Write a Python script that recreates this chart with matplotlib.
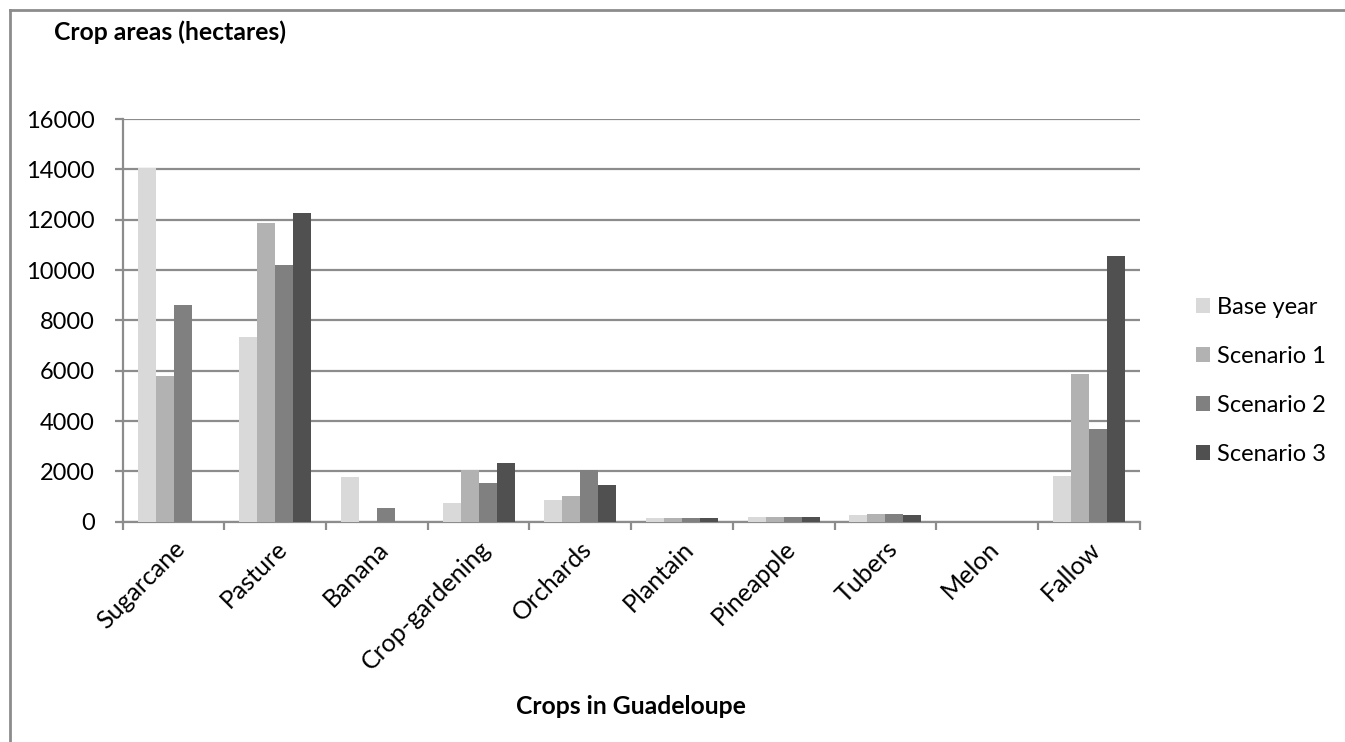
import matplotlib
matplotlib.use("Agg")
import matplotlib.pyplot as plt
from matplotlib.lines import Line2D
from matplotlib.patches import Patch
import numpy as np

plt.rcParams['font.family'] = ['Lato', 'DejaVu Sans']

crops = ["Sugarcane", "Pasture", "Banana", "Crop-gardening", "Orchards",
         "Plantain", "Pineapple", "Tubers", "Melon", "Fallow"]
series_names = ["Base year", "Scenario 1", "Scenario 2", "Scenario 3"]
base_year = [14050, 7350, 1760, 750, 880, 150, 180, 260, 0, 1830]
scenario_1 = [5800, 11850, 0, 2070, 1010, 150, 180, 290, 0, 5870]
scenario_2 = [8610, 10190, 560, 1530, 2050, 150, 180, 300, 0, 3670]
scenario_3 = [0, 12280, 0, 2330, 1470, 130, 180, 270, 0, 10540]
y_ticks = [0, 2000, 4000, 6000, 8000, 10000, 12000, 14000, 16000]

colors = ["#d9d9d9", "#b2b2b2", "#808080", "#505050"]
grid_gray = "#8c8c8c"
fs = 17
fs_cat = 18
fs_bold = 17.8

fig = plt.figure(figsize=(13.45, 7.42), dpi=100)
ax = fig.add_axes([0.0912, 0.2969, 0.7562, 0.5427])

x = np.arange(len(crops))
bar_w = 0.177
all_series = [base_year, scenario_1, scenario_2, scenario_3]
for i, (vals, c) in enumerate(zip(all_series, colors)):
    offs = (i - 1.5) * bar_w
    ax.bar(x + offs, vals, width=bar_w, color=c, edgecolor="none", zorder=3)

ax.set_xlim(-0.5, len(crops) - 0.5)
ax.set_ylim(0, 16000)
ax.set_yticks(y_ticks)
ax.set_yticklabels([str(v) for v in y_ticks])
ax.yaxis.grid(True, color=grid_gray, linewidth=1.6, zorder=0)
ax.set_axisbelow(True)

# category separators as tick marks; labels at category centres
ax.set_xticks(np.arange(-0.5, len(crops), 1.0))
ax.set_xticklabels([])
ax.set_xticks(x, minor=True)
ax.set_xticklabels(crops, minor=True, rotation=45, ha="right", va="top",
                   rotation_mode="anchor", fontsize=fs_cat)
ax.tick_params(axis="x", which="minor", length=0, pad=11)
ax.tick_params(axis="x", which="major", length=6, width=1.6, color=grid_gray)
ax.tick_params(axis="y", length=6, width=1.6, color=grid_gray, labelsize=fs, pad=14)

for side in ["top", "right"]:
    ax.spines[side].set_visible(False)
for side in ["left", "bottom"]:
    ax.spines[side].set_color(grid_gray)
    ax.spines[side].set_linewidth(1.6)

fig.text(0.0401, 0.957, "Crop areas (hectares)", fontsize=fs_bold, fontweight="bold",
         ha="left", va="center")
fig.text(0.4692, 0.0485, "Crops in Guadeloupe", fontsize=fs_bold, fontweight="bold",
         ha="center", va="center")

handles = [Patch(facecolor=c, edgecolor="none") for c in colors]
fig.legend(handles, series_names, loc="center left", bbox_to_anchor=(0.889, 0.487),
           frameon=False, fontsize=fs, handlelength=0.6, handleheight=0.6,
           handletextpad=0.3, labelspacing=1.19, borderpad=0, borderaxespad=0)

# outer chart frame
fig.add_artist(Line2D([10 / 1345, 1.0], [1 - 10 / 742, 1 - 10 / 742], transform=fig.transFigure,
                      color=grid_gray, linewidth=2))
fig.add_artist(Line2D([10 / 1345, 10 / 1345], [0.0, 1 - 10 / 742], transform=fig.transFigure,
                      color=grid_gray, linewidth=2))

fig.savefig("out.png", dpi=100, facecolor="white")
